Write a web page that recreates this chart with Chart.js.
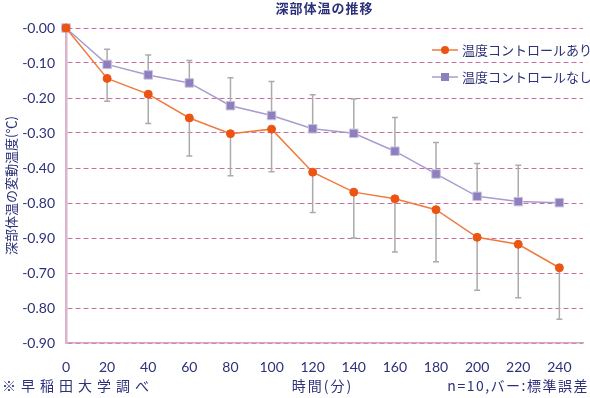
<!DOCTYPE html>
<html>
<head>
<meta charset="utf-8">
<script src="https://cdn.jsdelivr.net/npm/chart.js@4"></script>
<style>
  body { margin: 0; background: #fff; }
  #wrap { width: 590px; height: 398px; }
</style>
</head>
<body>
<div id="wrap"><canvas id="line-chart"></canvas></div>
<script>
// data
const times = [0, 20, 40, 60, 80, 100, 120, 140, 160, 180, 200, 220, 240];
const withControl = [0, -0.144, -0.189, -0.257, -0.302, -0.289, -0.412, -0.469, -0.488, -0.519, -0.598, -0.618, -0.685];
const withoutControl = [0, -0.104, -0.134, -0.157, -0.222, -0.25, -0.288, -0.301, -0.352, -0.417, -0.481, -0.496, -0.499];
// standard error: drawn downward for the orange series, upward for the purple one
const withControlErr = [0, 0.065, 0.084, 0.109, 0.12, 0.122, 0.115, 0.131, 0.152, 0.149, 0.151, 0.153, 0.147];
const withoutControlErr = [0, 0.043, 0.057, 0.064, 0.08, 0.097, 0.097, 0.098, 0.096, 0.09, 0.094, 0.104, 0];
const yTickLabels = ["-0.00", "-0.10", "-0.20", "-0.30", "-0.40", "-0.80", "-0.90", "-0.70", "-0.80", "-0.90"];
const seriesNames = ["温度コントロールあり", "温度コントロールなし"];

const navy = "#2c3179";
const jp = "'Noto Sans CJK JP', sans-serif";

const errorBars = {
  id: "errorBars",
  beforeDatasetsDraw(chart) {
    const { ctx, scales: { x, y } } = chart;
    const sets = [
      { vals: withControl, err: withControlErr, dir: -1 },
      { vals: withoutControl, err: withoutControlErr, dir: 1 },
    ];
    ctx.save();
    ctx.strokeStyle = "#ababab";
    ctx.lineWidth = 1.5;
    sets.forEach((s) => {
      times.forEach((t, i) => {
        if (!s.err[i]) return;
        const px = x.getPixelForValue(t);
        const y0 = y.getPixelForValue(s.vals[i]);
        const y1 = y.getPixelForValue(s.vals[i] + s.dir * s.err[i]);
        ctx.beginPath();
        ctx.moveTo(px, y0);
        ctx.lineTo(px, y1);
        ctx.moveTo(px - 3, y1);
        ctx.lineTo(px + 3, y1);
        ctx.stroke();
      });
    });
    ctx.restore();
  },
};

const texts = {
  id: "texts",
  afterDraw(chart) {
    const ctx = chart.ctx;
    const mid = (chart.chartArea.left + chart.chartArea.right) / 2;
    ctx.save();
    ctx.fillStyle = navy;
    ctx.textBaseline = "middle";
    ctx.font = "bold 13px " + jp;
    ctx.textAlign = "center";
    ctx.letterSpacing = "1px";
    ctx.fillText("深部体温の推移", mid, 8);

    ctx.font = "14px " + jp;
    ctx.letterSpacing = "2px";
    ctx.fillText("時間(分)", mid - 2, 386);
    ctx.textAlign = "left";
    ctx.letterSpacing = "5px";
    ctx.fillText("※早稲田大学調べ", 2, 386);
    ctx.textAlign = "right";
    ctx.letterSpacing = "1.5px";
    ctx.fillText("n=10,バー:標準誤差", 589, 386);
    ctx.letterSpacing = "0px";

    // legend
    const rows = [50, 77];
    ctx.font = "13px " + jp;
    chart.data.datasets.forEach((ds, i) => {
      const ly = rows[i];
      ctx.strokeStyle = ds.borderColor;
      ctx.lineWidth = 1.5;
      ctx.beginPath();
      ctx.moveTo(432, ly);
      ctx.lineTo(458, ly);
      ctx.stroke();
      ctx.fillStyle = ds.pointBackgroundColor;
      if (ds.pointStyle === "rect") {
        ctx.fillRect(441, ly - 4, 8, 8);
      } else {
        ctx.beginPath();
        ctx.arc(445, ly, 4, 0, Math.PI * 2);
        ctx.fill();
      }
      ctx.fillStyle = navy;
      ctx.textAlign = "left";
      ctx.fillText(ds.label, 462, ly);
    });
    ctx.restore();
  },
};

new Chart(document.getElementById("line-chart"), {
  type: "line",
  data: {
    datasets: [
      {
        label: seriesNames[0],
        data: times.map((t, i) => ({ x: t, y: withControl[i] })),
        borderColor: "#f07a3e",
        borderWidth: 1.5,
        pointBackgroundColor: "#ec5412",
        pointBorderColor: "#ec5412",
        pointStyle: "circle",
        pointRadius: 4,
        pointBorderWidth: 1,
        fill: false,
        clip: false,
      },
      {
        label: seriesNames[1],
        data: times.map((t, i) => ({ x: t, y: withoutControl[i] })),
        borderColor: "#a89ccf",
        borderWidth: 1.5,
        pointBackgroundColor: "#8e7fbd",
        pointBorderColor: "#c9c0e2",
        pointStyle: "rect",
        pointRadius: 6,
        pointBorderWidth: 1,
        fill: false,
        clip: false,
      },
    ],
  },
  options: {
    responsive: true,
    maintainAspectRatio: false,
    animation: false,
    layout: { padding: { left: 0, right: 0, top: 28, bottom: 0 } },
    plugins: {
      legend: { display: false },
      tooltip: { enabled: false },
    },
    scales: {
      x: {
        type: "linear",
        min: 0,
        max: 251.5,
        afterBuildTicks(s) {
          s.ticks = times.map((v) => ({ value: v }));
        },
        afterFit(s) {
          s.height = 55;
        },
        grid: { display: false },
        border: { display: true, color: "#d6a3c3", width: 1.5 },
        ticks: {
          padding: 8,
          color: navy,
          font: { family: "Lato", size: 14 },
          maxRotation: 0,
        },
      },
      y: {
        min: -0.9,
        max: 0,
        afterBuildTicks(s) {
          s.ticks = yTickLabels.map((l, i) => ({ value: -i / 10 }));
        },
        afterFit(s) {
          s.width = 66;
        },
        grid: {
          color: "#cb6fa5",
          lineWidth: 1,
          drawTicks: false,
        },
        border: { display: true, color: "#dcb3cd", width: 2.5, dash: [5, 3] },
        ticks: {
          padding: 11,
          color: navy,
          font: { family: "Lato", size: 14 },
          callback: (v) => yTickLabels[Math.round(-v * 10)],
        },
        title: {
          display: true,
          text: "深部体温の変動温度(℃)",
          color: navy,
          font: { family: "Noto Sans CJK JP", size: 13 },
          padding: { top: 3, bottom: 0 },
        },
      },
    },
  },
  plugins: [errorBars, texts],
});
</script>
</body>
</html>
